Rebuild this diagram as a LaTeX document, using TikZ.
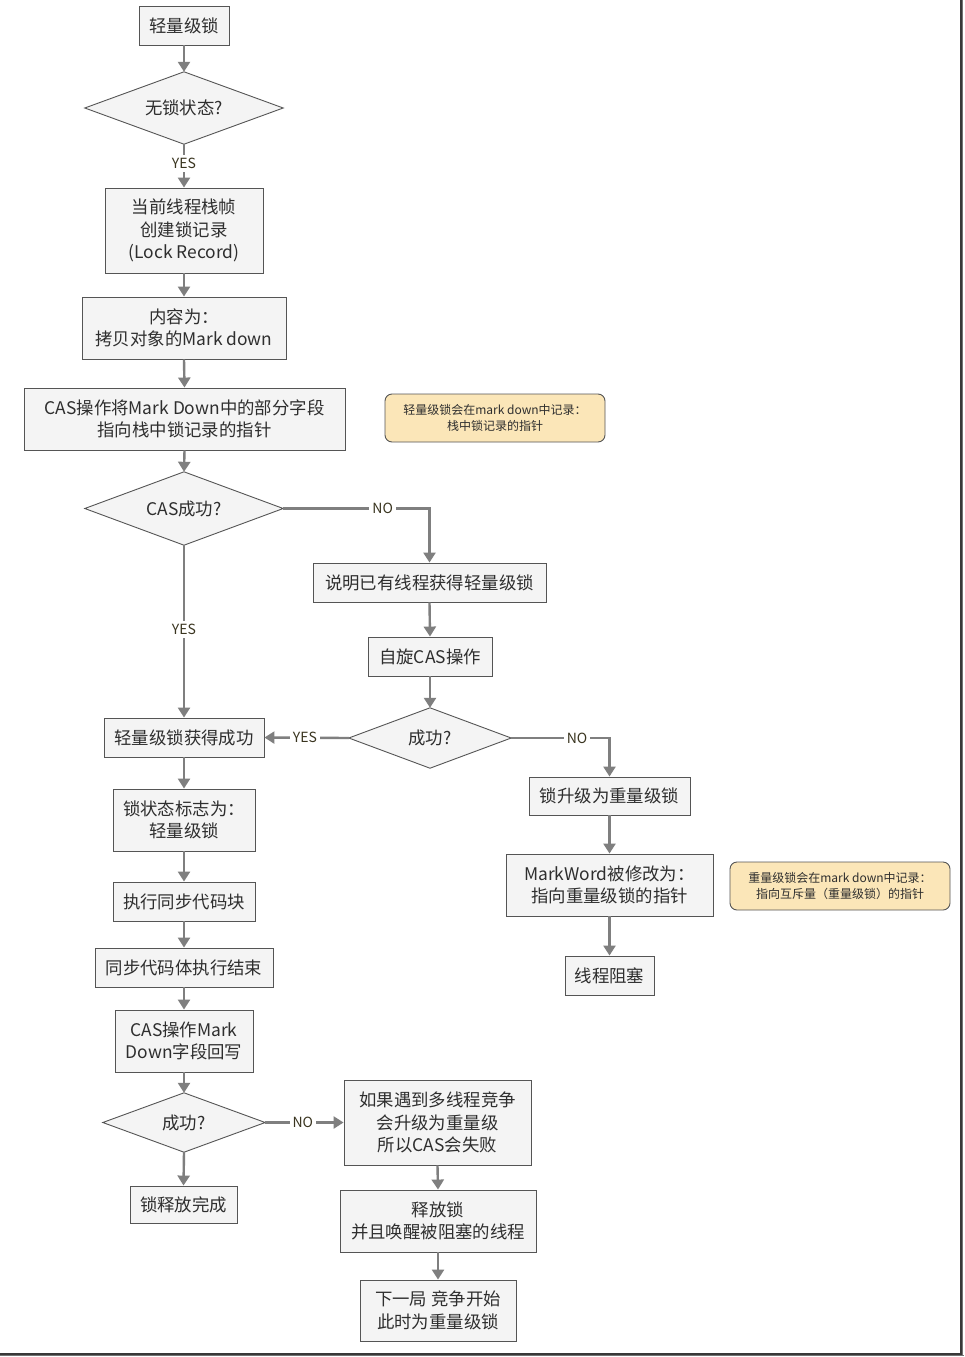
\documentclass[tikz,border=0pt]{standalone}
\usepackage{fontspec}
\setmainfont{Noto Sans CJK SC}
\usetikzlibrary{arrows.meta}
\definecolor{boxfill}{HTML}{F4F4F4}
\definecolor{boxdraw}{HTML}{555555}
\definecolor{arrowc}{HTML}{7F7F7F}
\definecolor{notefill}{HTML}{FBE6B8}
\definecolor{txt}{HTML}{2E2E2E}
\definecolor{lblc}{HTML}{3A3520}
\tikzset{
  box/.style={draw=boxdraw, fill=boxfill, line width=0.9pt, align=center, text=txt, inner sep=2pt,
    font=\fontsize{17.4}{22.5}\selectfont},
  dia/.style={inner sep=0pt, align=center, text=txt, font=\fontsize{17.4}{22.5}\selectfont},
  diashape/.style={draw=boxdraw, fill=boxfill, line width=0.9pt},
  note/.style={draw=boxdraw, fill=notefill, line width=0.9pt, rounded corners=7pt, align=center, text=txt,
    font=\fontsize{12}{16}\selectfont},
  lbl/.style={fill=white, inner sep=3pt, text=lblc, font=\fontsize{14}{15}\selectfont},
  arr/.style={draw=arrowc, line width=2.4pt, -{Triangle[length=10pt,width=12pt]}},
}
\newcommand{\drawdia}[1]{\path[diashape] (#1.north) -- (#1.east) -- (#1.south) -- (#1.west) -- cycle;}
\begin{document}
\begin{tikzpicture}[x=1pt,y=-1pt]
\useasboundingbox (0,0) rectangle (964,1357);
\fill[white] (0,0) rectangle (964,1357);
% frame (right and bottom edges)
\draw[line width=1.2pt, color=black!55] (962.6,0) -- (962.6,1356);
\draw[line width=1.2pt, color=black!55] (0,1355.6) -- (964,1355.6);
\draw[line width=1.8pt, color=black!78] (960.9,0) -- (960.9,1354.3);
\draw[line width=1.8pt, color=black!78] (0,1353.9) -- (961.8,1353.9);

% left column
\node[box, minimum width=90, minimum height=39] (a1) at (184,25.5) {轻量级锁};
\node[dia, minimum width=198, minimum height=72] (d1) at (184,108) {无锁状态?};
\drawdia{d1}
\node[dia] at (d1) {无锁状态?};
\node[box, minimum width=158, minimum height=85] (b2) at (184,230.5) {当前线程栈帧\\创建锁记录\\(Lock Record)};
\node[box, minimum width=204, minimum height=62] (b3) at (184,328) {内容为：\\拷贝对象的Mark down};
\node[box, minimum width=321, minimum height=62] (b4) at (184.5,419) {CAS操作将Mark Down中的部分字段\\指向栈中锁记录的指针};
\node[note, minimum width=220, minimum height=48] (n1) at (495,418) {轻量级锁会在mark down中记录：\\栈中锁记录的指针};
\node[dia, minimum width=198, minimum height=73] (d2) at (184,508.5) {CAS成功?};
\drawdia{d2}
\node[dia] at (d2) {CAS成功?};

% right branch 1
\node[box, minimum width=233, minimum height=39] (b5) at (429.5,582.5) {说明已有线程获得轻量级锁};
\node[box, minimum width=124, minimum height=39] (b6) at (430,656.5) {自旋CAS操作};
\node[dia, minimum width=162, minimum height=60] (d3) at (430,738) {成功?};
\drawdia{d3}
\node[dia] at (d3) {成功?};
\node[box, minimum width=161, minimum height=38] (b7) at (609.5,796) {锁升级为重量级锁};
\node[box, minimum width=207, minimum height=62] (b8) at (609.5,885) {MarkWord被修改为：\\指向重量级锁的指针};
\node[note, minimum width=220, minimum height=48] (n2) at (840,886) {重量级锁会在mark down中记录：\\指向互斥量（重量级锁）的指针};
\node[box, minimum width=89, minimum height=39] (b8b) at (609.5,975.5) {线程阻塞};

% left column lower
\node[box, minimum width=160, minimum height=39] (b9) at (184,737.5) {轻量级锁获得成功};
\node[box, minimum width=142, minimum height=62] (b10) at (184,820) {锁状态标志为：\\轻量级锁};
\node[box, minimum width=142, minimum height=39] (b11) at (184,901.5) {执行同步代码块};
\node[box, minimum width=178, minimum height=39] (b12) at (184,967.5) {同步代码体执行结束};
\node[box, minimum width=138, minimum height=62] (b13) at (184,1041) {CAS操作Mark\\Down字段回写};
\node[dia, minimum width=162, minimum height=59] (d4) at (184,1122.5) {成功?};
\drawdia{d4}
\node[dia] at (d4) {成功?};
\node[box, minimum width=107, minimum height=37] (b15) at (183.5,1204.5) {锁释放完成};
\node[box, minimum width=187, minimum height=85] (b14) at (437.5,1122.5) {如果遇到多线程竞争\\会升级为重量级\\所以CAS会失败};
\node[box, minimum width=196, minimum height=62] (b16) at (438,1221) {释放锁\\并且唤醒被阻塞的线程};
\node[box, minimum width=156, minimum height=61] (b17) at (438,1310.5) {下一局 竞争开始\\此时为重量级锁};

% connectors
\draw[arr] (a1.south) -- (d1.north);
\draw[arr] (d1.south) -- node[lbl, pos=0.45] {YES} (b2.north);
\draw[arr] (b2.south) -- (b3.north);
\draw[arr] (b3.south) -- (b4.north);
\draw[arr] (b4.south) -- (d2.north);
\draw[arr] (d2.east) -- node[lbl, pos=0.68] {NO} (b5.north |- d2.east) -- (b5.north);
\draw[arr] (d2.south) -- node[lbl, pos=0.49] {YES} (b9.north);
\draw[arr] (b5.south) -- (b6.north);
\draw[arr] (b6.south) -- (d3.north);
\draw[arr] (d3.west) -- node[lbl, pos=0.52] {YES} (b9.east);
\draw[arr] (d3.east) -- node[lbl, pos=0.67] {NO} (b7.north |- d3.east) -- (b7.north);
\draw[arr] (b7.south) -- (b8.north);
\draw[arr] (b8.south) -- (b8b.north);
\draw[arr] (b9.south) -- (b10.north);
\draw[arr] (b10.south) -- (b11.north);
\draw[arr] (b11.south) -- (b12.north);
\draw[arr] (b12.south) -- (b13.north);
\draw[arr] (b13.south) -- (d4.north);
\draw[arr] (d4.east) -- node[lbl, pos=0.48] {NO} (b14.west);
\draw[arr] (d4.south) -- (b15.north);
\draw[arr] (b14.south) -- (b16.north);
\draw[arr] (b16.south) -- (b17.north);
\end{tikzpicture}
\end{document}
